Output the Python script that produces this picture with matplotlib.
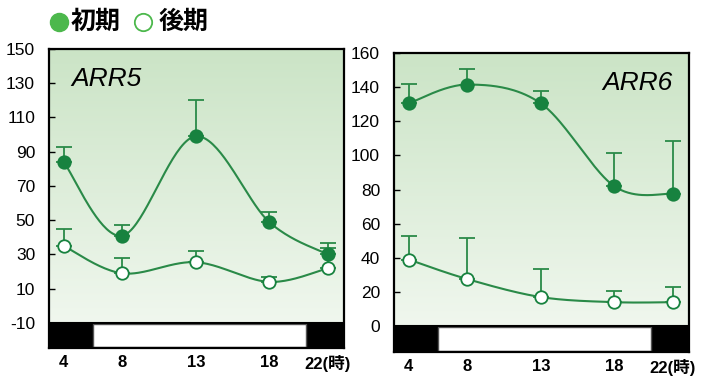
import numpy as np
import matplotlib.pyplot as plt
from matplotlib.colors import LinearSegmentedColormap
from matplotlib.lines import Line2D

plt.rcParams['font.family'] = ['Liberation Sans', 'Noto Sans CJK JP', 'DejaVu Sans']
plt.rcParams['axes.unicode_minus'] = False

hours = [4, 8, 13, 18, 22]
xlabels = ['4', '8', '13', '18', '22(時)']

arr5_early = [84, 41, 99, 49, 30]
arr5_early_err = [9, 6, 21, 6, 7]
arr5_late = [35, 19, 25.5, 14, 22]
arr5_late_err = [10, 9, 6.5, 3, 12]

arr6_early = [130.5, 141.5, 130.5, 82, 77.5]
arr6_early_err = [11.5, 9, 7, 19.5, 31]
arr6_late = [39, 27.5, 17, 14, 14]
arr6_late_err = [13.5, 24, 16.5, 6.5, 9]

dark_green = '#17823f'
line_green = '#2a8a48'


def smooth(x, y, n=40):
    # excel style smoothing (catmull-rom as bezier)
    x = np.asarray(x, float)
    y = np.asarray(y, float)
    px = np.concatenate([[x[0]], x, [x[-1]]])
    py = np.concatenate([[y[0]], y, [y[-1]]])
    xs, ys = [], []
    t = np.linspace(0, 1, n)
    for i in range(1, len(px) - 2):
        p0 = np.array([px[i], py[i]])
        p3 = np.array([px[i + 1], py[i + 1]])
        c1 = p0 + (p3 - np.array([px[i - 1], py[i - 1]])) / 6
        c2 = p3 - (np.array([px[i + 2], py[i + 2]]) - p0) / 6
        b = ((1 - t) ** 3)[:, None] * p0 + (3 * (1 - t) ** 2 * t)[:, None] * c1 \
            + (3 * (1 - t) * t ** 2)[:, None] * c2 + (t ** 3)[:, None] * p3
        xs.extend(b[:, 0])
        ys.extend(b[:, 1])
    return xs, ys


cmap = LinearSegmentedColormap.from_list('bg', ['#f0f7ee', '#cbe4c6'])


def panel(ax, ymin, ymax, base, ticks, early, early_err, late, late_err):
    x0, x1 = 3.0, 23.1
    grad = np.linspace(0, 1, 256).reshape(-1, 1)
    ax.imshow(grad, cmap=cmap, origin='lower', aspect='auto',
              extent=[x0, x1, base, ymax], zorder=0)
    # light/dark bar
    ax.fill_between([x0, x1], ymin, base, color='black', zorder=1)
    ax.fill_between([6.0, 20.5], ymin + 0.8, base - 0.8, color='white',
                    edgecolor='#555555', linewidth=1, zorder=2)
    ax.axhline(base, color='black', linewidth=1.5, zorder=3)

    for vals, err, fc in [(early, early_err, dark_green), (late, late_err, 'white')]:
        sx, sy = smooth(hours, vals)
        ax.plot(sx, sy, color=line_green, linewidth=1.5, zorder=4)
        ax.errorbar(hours, vals, yerr=[np.zeros(len(err)), err], fmt='none',
                    ecolor=line_green, elinewidth=1.3, capsize=6, capthick=1.3, zorder=4)
        ax.plot(hours, vals, 'o', markersize=9, markerfacecolor=fc,
                markeredgecolor=dark_green, markeredgewidth=1.3, zorder=5)

    ax.set_xlim(x0, x1)
    ax.set_ylim(ymin, ymax)
    ax.set_yticks(ticks)
    ax.set_xticks(hours)
    ax.set_xticklabels(xlabels, fontweight='bold', fontsize=12)
    ax.tick_params(axis='y', direction='in', length=4, width=1, labelsize=12.5, pad=10)
    ax.tick_params(axis='x', length=0, pad=5)
    for s in ax.spines.values():
        s.set_linewidth(1.6)
    ax.set_facecolor('white')


fig = plt.figure(figsize=(7.1, 3.76), dpi=100)
ax1 = fig.add_axes([49 / 710, 28 / 376, 295 / 710, 299 / 376])
ax2 = fig.add_axes([394 / 710, 24 / 376, 295 / 710, 299 / 376])

panel(ax1, -24.6, 150, -10, list(range(-10, 151, 20)),
      arr5_early, arr5_early_err, arr5_late, arr5_late_err)
panel(ax2, -15.2, 160, 0, list(range(0, 161, 20)),
      arr6_early, arr6_early_err, arr6_late, arr6_late_err)

ax1.text(0.075, 0.90, 'ARR5', transform=ax1.transAxes, fontsize=19,
         fontstyle='italic', ha='left', va='center')
ax2.text(0.945, 0.90, 'ARR6', transform=ax2.transAxes, fontsize=19,
         fontstyle='italic', ha='right', va='center')

# legend at top
fig.add_artist(Line2D([59 / 710], [1 - 22 / 376], marker='o', markersize=13,
                      markerfacecolor='#4cb84c', markeredgecolor='#4cb84c',
                      transform=fig.transFigure))
fig.text(71 / 710, 1 - 22 / 376, '初期', fontsize=18, fontweight='bold',
         family=['Noto Sans CJK JP'], va='center', ha='left')
fig.add_artist(Line2D([142.5 / 710], [1 - 22 / 376], marker='o', markersize=12.5,
                      markerfacecolor='white', markeredgecolor='#4cb84c',
                      markeredgewidth=1.3, transform=fig.transFigure))
fig.text(159 / 710, 1 - 22 / 376, '後期', fontsize=18, fontweight='bold',
         family=['Noto Sans CJK JP'], va='center', ha='left')

fig.savefig('out.png', dpi=100)
